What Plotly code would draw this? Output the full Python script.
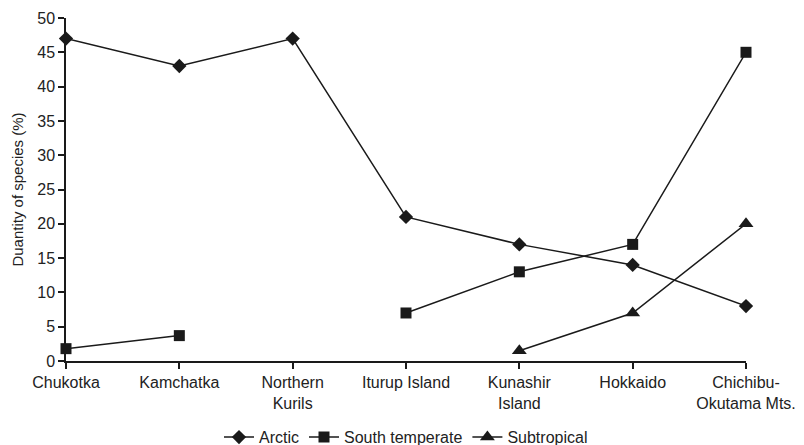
import plotly.graph_objects as go

categories = ["Chukotka", "Kamchatka", "Northern<br>Kurils", "Iturup Island",
              "Kunashir<br>Island", "Hokkaido", "Chichibu-<br>Okutama Mts."]
arctic = [47, 43, 47, 21, 17, 14, 8]
south_temperate = [1.8, 3.7, None, 7, 13, 17, 45]
subtropical = [None, None, None, None, 1.5, 7, 20]
y_ticks = [0, 5, 10, 15, 20, 25, 30, 35, 40, 45, 50]

fig = go.Figure()
series = [("Arctic", arctic, "diamond", 11),
          ("South temperate", south_temperate, "square", 11),
          ("Subtropical", subtropical, "triangle-up", 13)]
for name, vals, sym, sz in series:
    fig.add_trace(go.Scatter(
        x=categories, y=vals, name=name, mode="lines+markers",
        line=dict(color="#1a1a1a", width=1.5),
        marker=dict(symbol=sym, size=sz, color="#1a1a1a"),
        connectgaps=False, cliponaxis=False))

# page body has an 8px default margin; figure sized to fit the window
fig.update_layout(
    width=796, height=437,
    margin=dict(l=58, r=58, t=10, b=84, autoexpand=False),
    paper_bgcolor="white", plot_bgcolor="white",
    font=dict(family="Liberation Sans, Arial, sans-serif", size=16, color="#222"),
    showlegend=True,
    legend=dict(orientation="h", x=0.5, xanchor="center", y=-0.222, yanchor="middle",
                font=dict(size=16), itemwidth=30, tracegroupgap=0),
)
fig.update_xaxes(
    type="category", range=[0, 6], showgrid=False, zeroline=False,
    showline=True, linecolor="#1a1a1a", linewidth=1.5, automargin=False,
    ticks="outside", ticklen=6, tickcolor="#1a1a1a", tickwidth=1.5,
    tickfont=dict(size=16))
fig.update_yaxes(
    range=[0, 50], tickvals=y_ticks, showgrid=False, zeroline=False,
    showline=True, linecolor="#1a1a1a", linewidth=1.5, automargin=False,
    ticks="outside", ticklen=6, tickcolor="#1a1a1a", tickwidth=1.5,
    tickfont=dict(size=16),
    title=dict(text="Duantity of species (%)", font=dict(size=15), standoff=10))

fig.write_html("out.html")
